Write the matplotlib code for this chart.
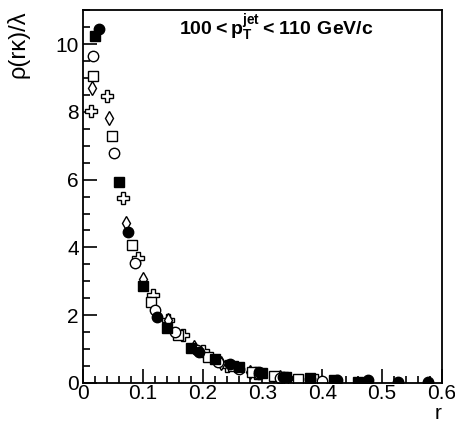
import matplotlib
matplotlib.use('Agg')
import matplotlib.pyplot as plt
import numpy as np
from matplotlib.ticker import MultipleLocator

# filled squares
sqFillX = [0.02, 0.06, 0.10, 0.14, 0.18, 0.22, 0.26, 0.30, 0.34, 0.38, 0.42, 0.46]
sqFillY = [10.24, 5.92, 2.87, 1.63, 1.04, 0.71, 0.47, 0.30, 0.18, 0.15, 0.09, 0.03]
# filled circles
ciFillX = [0.027, 0.075, 0.124, 0.194, 0.245, 0.295, 0.335, 0.38, 0.425, 0.477, 0.527, 0.577]
ciFillY = [10.45, 4.44, 1.95, 0.92, 0.55, 0.32, 0.18, 0.11, 0.08, 0.09, 0.03, 0.03]
# open circles
ciOpenX = [0.017, 0.052, 0.087, 0.12, 0.154, 0.19, 0.225, 0.26, 0.295, 0.33, 0.40]
ciOpenY = [9.65, 6.78, 3.55, 2.16, 1.51, 0.98, 0.62, 0.40, 0.25, 0.15, 0.06]
# open squares
sqOpenX = [0.017, 0.048, 0.082, 0.114, 0.159, 0.209, 0.25, 0.283, 0.32, 0.36]
sqOpenY = [9.05, 7.28, 4.08, 2.40, 1.42, 0.77, 0.50, 0.32, 0.20, 0.12]
# open diamonds
diOpenX = [0.015, 0.043, 0.072, 0.10, 0.142, 0.186, 0.23, 0.28, 0.33]
diOpenY = [8.70, 7.81, 4.73, 3.08, 1.86, 1.05, 0.60, 0.33, 0.18]
# open crosses
crOpenX = [0.013, 0.04, 0.067, 0.092, 0.117, 0.142, 0.168, 0.2, 0.24, 0.29, 0.34, 0.39]
crOpenY = [8.02, 8.46, 5.47, 3.70, 2.60, 1.85, 1.40, 0.95, 0.50, 0.28, 0.16, 0.08]

plt.rcParams['font.family'] = ['Liberation Sans', 'DejaVu Sans']
plt.rcParams['mathtext.fontset'] = 'custom'
plt.rcParams['mathtext.rm'] = 'Liberation Sans'
plt.rcParams['mathtext.bf'] = 'Liberation Sans:bold'

fig = plt.figure(figsize=(4.56, 4.25), dpi=100)
ax = fig.add_axes([0.182, 0.099, 0.787, 0.877])

ms = 7.5
ax.plot(crOpenX, crOpenY, 'P', ms=ms + 1, mfc='white', mec='black', mew=1.0, ls='none')
ax.plot(diOpenX, diOpenY, 'd', ms=ms, mfc='white', mec='black', mew=1.0, ls='none')
ax.plot(sqOpenX, sqOpenY, 's', ms=ms, mfc='white', mec='black', mew=1.0, ls='none')
ax.plot(ciOpenX, ciOpenY, 'o', ms=ms, mfc='white', mec='black', mew=1.0, ls='none')
ax.plot(ciFillX, ciFillY, 'o', ms=ms, color='black', ls='none')
ax.plot(sqFillX, sqFillY, 's', ms=ms, color='black', ls='none')

ax.set_xlim(0, 0.6)
ax.set_ylim(0, 11.0)
ax.xaxis.set_major_locator(MultipleLocator(0.1))
ax.xaxis.set_minor_locator(MultipleLocator(0.02))
ax.yaxis.set_major_locator(MultipleLocator(2))
ax.yaxis.set_minor_locator(MultipleLocator(0.5))
ax.set_xticks(np.arange(0, 0.61, 0.1))
ax.set_xticklabels(['0', '0.1', '0.2', '0.3', '0.4', '0.5', '0.6'])
ax.tick_params(which='both', direction='in', labelsize=15, width=1.2)
ax.tick_params(which='major', length=10)
ax.tick_params(which='minor', length=5)
ax.tick_params(axis='y', pad=3)
ax.tick_params(axis='x', pad=1)
for s in ax.spines.values():
    s.set_linewidth(1.3)

ax.set_ylabel('ρ(rκ)/λ', fontsize=17, loc='top')
ax.yaxis.set_label_coords(-0.15, 1.0)
ax.set_xlabel('r', fontsize=15, loc='right', labelpad=0.5)

ax.text(0.54, 0.952, r'$\mathbf{100{<}p_{T}^{jet}{<}110\ GeV/c}$', transform=ax.transAxes,
        ha='center', va='center', fontsize=14)

plt.savefig('out.png', dpi=100)
